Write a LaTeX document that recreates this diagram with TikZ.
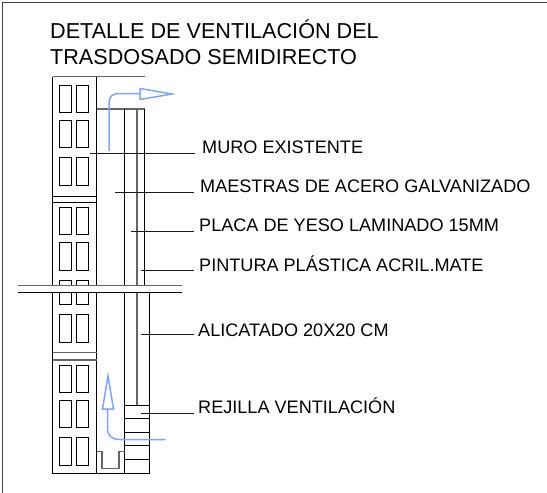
\documentclass[tikz,border=0pt]{standalone}
\usepackage{fontspec}
\setmainfont{Liberation Sans}
\tikzset{
  wall/.style={draw=black,line width=0.95pt},
  grayl/.style={draw=black!60,line width=1.25pt},
  flow/.style={draw=flowblue,line width=1.5pt},
  lab/.style={anchor=west,inner sep=0pt,font=\fontsize{18.1}{20}\selectfont},
  ttl/.style={anchor=west,inner sep=0pt,font=\fontsize{21.6}{24}\selectfont},
  leader/.style={draw=black!90,line width=0.95pt},
}
\definecolor{flowblue}{RGB}{130,165,245}
\newcommand{\win}[2]{%
  \draw[wall] (59,#1) rectangle (71.5,#2);
  \draw[wall] (76,#1) rectangle (88.5,#2);}
\begin{document}
\begin{tikzpicture}[x=1pt,y=-1pt]
\useasboundingbox (0,0) rectangle (547,493);
\fill[white] (0,0) rectangle (547,493);
% frame
\draw[draw=black!75,line width=1.2pt] (2.5,493) -- (2.5,2.5) -- (547,2.5);
% titles
\node[ttl] (t1) at (50,29) {DETALLE DE VENTILACIÓN DEL};
\node[ttl] (t2) at (50,57) {TRASDOSADO SEMIDIRECTO};
% wall
\draw[wall] (52.5,76.5) -- (52.5,473) -- (96.5,473) -- (96.5,76.5);
\draw[grayl] (52.5,76.5) -- (144.5,76.5);
\draw[grayl] (96.5,109) -- (144.5,109);
\foreach \a/\b in {85/112,120.5/147,157.5/185,207.5/234,242.5/270,280/304,314.5/342,365/392,400.5/427,437.5/465}{\win{\a}{\b}}
\draw[wall] (52.5,196.5) -- (96.5,196.5);
\draw[wall] (52.5,202.5) -- (96.5,202.5);
\draw[grayl] (52.5,352.5) -- (96.5,352.5);
\draw[grayl] (52.5,360) -- (96.5,360);
% layers
\draw[wall] (124.5,109) -- (124.5,473);
\draw[grayl] (137,109) -- (137,405.5);
\draw[wall] (144.5,109) -- (144.5,292);
\draw[wall] (149.5,292) -- (149.5,473) -- (96.5,473);
\foreach \y in {405.5,418.5,432.5,445,459}{\draw[wall] (124.5,\y) -- (149.5,\y);}
% channel
\draw[grayl] (96.5,451.5) -- (102,451.5) -- (102,468.5) -- (119,468.5) -- (119,451.5) -- (124.5,451.5);
% break
\fill[white] (18,285.5) rectangle (182,292);
\draw[grayl] (18,285.5) -- (182,285.5);
\draw[wall] (18,292) -- (182,292);
% leaders + labels
\node[lab] (l1) at (202,147) {MURO EXISTENTE};
\node[lab] (l2) at (200,186.5) {MAESTRAS DE ACERO GALVANIZADO};
\node[lab] (l3) at (199,225.5) {PLACA DE YESO LAMINADO 15MM};
\node[lab] (l4) at (199,264) {PINTURA PLÁSTICA ACRIL.MATE};
\node[lab] (l5) at (198,330) {ALICATADO 20X20 CM};
\node[lab] (l6) at (198,406) {REJILLA VENTILACIÓN};
\draw[leader] (90,153) -- (194.5,153);
\draw[leader] (115,192) -- (193.5,192);
\draw[leader] (130.5,231) -- (193.5,231);
\draw[leader] (141,270) -- (193.5,270);
\draw[leader] (141,334) -- (193.5,334);
\draw[leader] (141,413) -- (193.5,413);
% airflow
\draw[flow] (109,151) -- (109,104) .. controls (109,96.5) and (112,93.5) .. (119,93.5) -- (140,93.5);
\draw[flow] (140,88.5) -- (172,94) -- (140,99.5) -- cycle;
\draw[flow] (165.5,439.5) -- (120,439.5) .. controls (112,439.5) and (107.5,436) .. (107.5,428) -- (107.5,409);
\draw[flow] (102.5,409) -- (108,376) -- (113.5,409) -- cycle;
\end{tikzpicture}
\end{document}
